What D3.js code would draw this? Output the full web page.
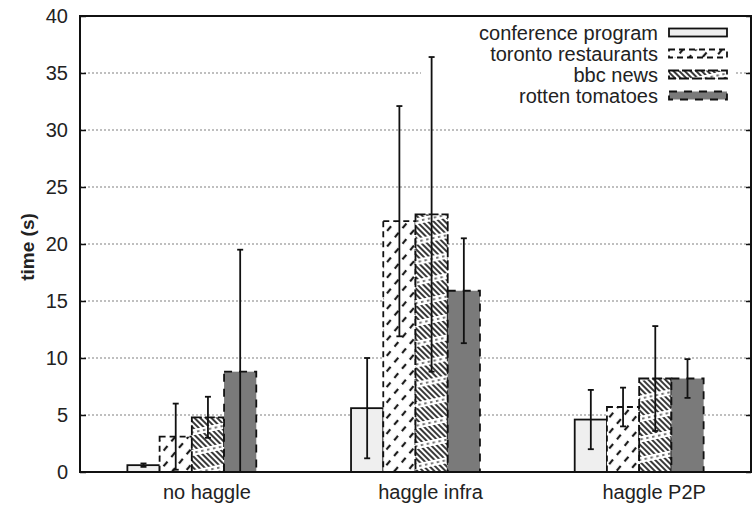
<!DOCTYPE html>
<html>
<head>
<meta charset="utf-8">
<script src="https://cdn.jsdelivr.net/npm/d3@7"></script>
<style>
  body { margin: 0; background: #fff; }
  svg { display: block; font-family: "Liberation Sans", Arial, sans-serif; }
</style>
</head>
<body>
<svg id="chart" width="753" height="506"></svg>
<script>
// --- data ---
const categories = ["no haggle", "haggle infra", "haggle P2P"];
const seriesNames = ["conference program", "toronto restaurants", "bbc news", "rotten tomatoes"];
const conferenceProgram = [0.6, 5.6, 4.6];
const torontoRestaurants = [3.1, 22.0, 5.7];
const bbcNews = [4.8, 22.6, 8.2];
const rottenTomatoes = [8.8, 15.9, 8.2];
const conferenceErr = [0.15, 4.4, 2.6];
const torontoErr = [2.9, 10.1, 1.7];
const bbcErr = [1.8, 13.8, 4.6];
const rottenErr = [10.7, 4.6, 1.7];
const yTicks = [0, 5, 10, 15, 20, 25, 30, 35, 40];

const means = [conferenceProgram, torontoRestaurants, bbcNews, rottenTomatoes];
const errs = [conferenceErr, torontoErr, bbcErr, rottenErr];

// style per series (kept apart from the data)
const styles = {
  "conference program": { fill: "#efefef", overlays: [], dash: null },
  "toronto restaurants": { fill: "#fff", overlays: ["url(#slashDash)"], dash: "6,4" },
  "bbc news": { fill: "#fff", overlays: ["url(#hatch)", "url(#bands)"], dash: "10,3" },
  "rotten tomatoes": { fill: "#7a7a7a", overlays: [], dash: "8,7" }
};

const svg = d3.select("#chart");
const margin = { left: 80, top: 16, right: 2, bottom: 34 };
const W = 753, H = 506;
const plotRight = W - margin.right;
const plotBottom = H - margin.bottom;

// --- patterns ---
const defs = svg.append("defs");
const pSlash = defs.append("pattern")
  .attr("id", "slashDash").attr("patternUnits", "userSpaceOnUse")
  .attr("width", 12).attr("height", 10)
  .attr("patternTransform", "rotate(-50)");
pSlash.append("line").attr("x1", 0).attr("y1", 5).attr("x2", 6).attr("y2", 5)
  .attr("stroke", "#1a1a1a").attr("stroke-width", 2.2);

const pHatch = defs.append("pattern")
  .attr("id", "hatch").attr("patternUnits", "userSpaceOnUse")
  .attr("width", 4).attr("height", 4)
  .attr("patternTransform", "rotate(45)");
pHatch.append("line").attr("x1", 0).attr("y1", 2).attr("x2", 4).attr("y2", 2)
  .attr("stroke", "#222").attr("stroke-width", 1.8);

const pBands = defs.append("pattern")
  .attr("id", "bands").attr("patternUnits", "userSpaceOnUse")
  .attr("width", 6).attr("height", 20)
  .attr("patternTransform", "rotate(-12)");
pBands.append("rect").attr("x", 0).attr("y", 0).attr("width", 6).attr("height", 6).attr("fill", "#fff");
pBands.append("rect").attr("x", 1).attr("y", 2.2).attr("width", 2.5).attr("height", 1.6).attr("fill", "#555");

// --- scales ---
const x0 = d3.scaleBand().domain(categories).range([margin.left, plotRight]).padding(0);
const x1 = d3.scaleBand().domain(seriesNames).range([0, x0.bandwidth()]).paddingInner(0).paddingOuter(1.47);
const y = d3.scaleLinear().domain([0, 40]).range([plotBottom, margin.top]);

// --- grid ---
svg.append("g").selectAll("line")
  .data(yTicks.filter(t => t > 0 && t < 40))
  .join("line")
  .attr("x1", margin.left).attr("x2", plotRight)
  .attr("y1", d => y(d)).attr("y2", d => y(d))
  .attr("stroke", "#aaa").attr("stroke-width", 1.3).attr("stroke-dasharray", "2,2");

// legend background hides the grid under it
svg.append("rect").attr("x", 421).attr("y", margin.top + 2).attr("width", 315).attr("height", 92).attr("fill", "#fff");

// --- bars ---
const flat = [];
categories.forEach((c, ci) => {
  seriesNames.forEach((s, si) => {
    flat.push({ cat: c, series: s, value: means[si][ci], err: errs[si][ci] });
  });
});

const barG = svg.append("g");
flat.forEach(d => {
  const st = styles[d.series];
  const bx = x0(d.cat) + x1(d.series);
  const bw = x1.bandwidth();
  const g = barG.append("g");
  g.append("rect").attr("x", bx).attr("y", y(d.value)).attr("width", bw).attr("height", y(0) - y(d.value)).attr("fill", st.fill);
  st.overlays.forEach(o => {
    g.append("rect").attr("x", bx).attr("y", y(d.value)).attr("width", bw).attr("height", y(0) - y(d.value)).attr("fill", o);
  });
  g.append("rect").attr("x", bx).attr("y", y(d.value)).attr("width", bw).attr("height", y(0) - y(d.value))
    .attr("fill", "none").attr("stroke", "#111").attr("stroke-width", 1.8)
    .attr("stroke-dasharray", st.dash);
});

// --- error bars ---
const errG = svg.append("g").attr("stroke", "#111").attr("stroke-width", 1.8);
flat.forEach(d => {
  const cx = x0(d.cat) + x1(d.series) + x1.bandwidth() / 2;
  const lo = Math.max(0, d.value - d.err), hi = d.value + d.err;
  errG.append("line").attr("x1", cx).attr("x2", cx).attr("y1", y(lo)).attr("y2", y(hi));
  errG.append("line").attr("x1", cx - 3).attr("x2", cx + 3).attr("y1", y(hi)).attr("y2", y(hi));
  if (lo > 0) errG.append("line").attr("x1", cx - 3).attr("x2", cx + 3).attr("y1", y(lo)).attr("y2", y(lo));
});

// --- axes & frame ---
const yAxis = svg.append("g").attr("transform", `translate(${margin.left},0)`)
  .call(d3.axisLeft(y).tickValues(yTicks).tickSize(-6).tickPadding(12));
yAxis.select(".domain").remove();
yAxis.selectAll("line").attr("stroke", "#111").attr("stroke-width", 1.5);
yAxis.selectAll("text").attr("font-size", 20).attr("fill", "#222").attr("font-family", "Liberation Sans, Arial, sans-serif");

const yAxisR = svg.append("g").attr("transform", `translate(${plotRight},0)`)
  .call(d3.axisRight(y).tickValues(yTicks).tickSize(-5).tickFormat(""));
yAxisR.select(".domain").remove();
yAxisR.selectAll("line").attr("stroke", "#111").attr("stroke-width", 1.5);

svg.append("rect")
  .attr("x", margin.left).attr("y", margin.top)
  .attr("width", plotRight - margin.left).attr("height", plotBottom - margin.top)
  .attr("fill", "none").attr("stroke", "#111").attr("stroke-width", 2);

// category labels
svg.append("g").selectAll("text")
  .data(categories)
  .join("text")
  .attr("x", d => x0(d) + x0.bandwidth() / 2 + 15)
  .attr("y", 499)
  .attr("text-anchor", "middle")
  .attr("font-size", 20).attr("fill", "#222")
  .text(d => d);

// y label
svg.append("text")
  .attr("transform", "translate(34,247) rotate(-90)")
  .attr("text-anchor", "middle")
  .attr("font-size", 19).attr("font-weight", "bold").attr("fill", "#222")
  .text("time (s)");

// --- legend ---
const legend = svg.append("g");
seriesNames.forEach((s, i) => {
  const st = styles[s];
  const cy = 32.5 + i * 21;
  legend.append("text").attr("x", 658).attr("y", cy).attr("dy", "0.35em")
    .attr("text-anchor", "end").attr("font-size", 20).attr("fill", "#222").text(s);
  legend.append("rect").attr("x", 669).attr("y", cy - 4).attr("width", 58).attr("height", 8).attr("fill", st.fill);
  st.overlays.forEach(o => {
    legend.append("rect").attr("x", 669).attr("y", cy - 4).attr("width", 58).attr("height", 8).attr("fill", o);
  });
  legend.append("rect").attr("x", 669).attr("y", cy - 4).attr("width", 58).attr("height", 8)
    .attr("fill", "none").attr("stroke", "#111").attr("stroke-width", 1.8).attr("stroke-dasharray", st.dash);
});
</script>
</body>
</html>
